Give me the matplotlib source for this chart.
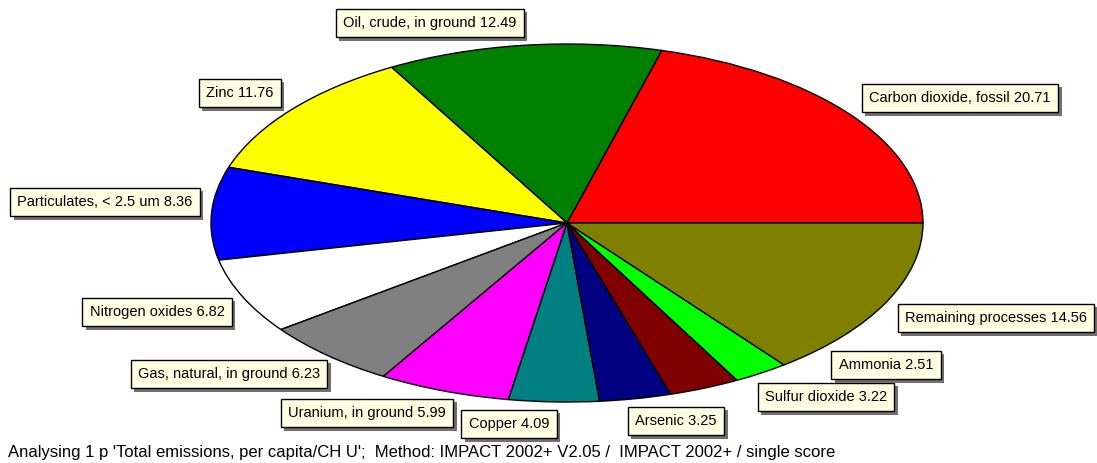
import matplotlib.pyplot as plt
import matplotlib.patheffects as pe

plt.rcParams["font.family"] = ["Liberation Sans", "DejaVu Sans"]

# data, in drawing order (counter-clockwise from 3 o'clock)
names = [
    "Carbon dioxide, fossil",
    "Oil, crude, in ground",
    "Zinc",
    "Particulates, < 2.5 um",
    "Nitrogen oxides",
    "Gas, natural, in ground",
    "Uranium, in ground",
    "Copper",
    "Arsenic",
    "Sulfur dioxide",
    "Ammonia",
    "Remaining processes",
]
values = [20.71, 12.49, 11.76, 8.36, 6.82, 6.23, 5.99, 4.09, 3.25, 3.22, 2.51, 14.56]
colors = [
    "#ff0000", "#008000", "#ffff00", "#0000ff", "#ffffff", "#808080",
    "#ff00ff", "#008080", "#000080", "#800000", "#00ff00", "#808000",
]
# label box centres, figure pixels from top-left
label_xy = [
    (960, 98), (430, 23), (240, 93), (105, 202), (157, 312), (229, 374),
    (367, 413), (509, 424), (676, 421), (826, 397), (886, 365), (996, 318),
]
footer = ("Analysing 1 p 'Total emissions, per capita/CH U';  Method: IMPACT 2002+ V2.05 /"
          "  IMPACT 2002+ / single score")

W, H = 1097, 463
fig = plt.figure(figsize=(W / 100, H / 100), dpi=100)
# ellipse bounding box in pixels: x 211..923, y 44..402
ax = fig.add_axes([211 / W, (H - 402) / H, 712 / W, 358 / H])
ax.pie(
    values,
    colors=colors,
    startangle=0,
    counterclock=True,
    radius=1,
    wedgeprops=dict(edgecolor="black", linewidth=1),
)
ax.set_aspect("auto")
ax.set_xlim(-1, 1)
ax.set_ylim(-1, 1)
ax.axis("off")

for name, v, (px, py) in zip(names, values, label_xy):
    t = fig.text(
        px / W, 1 - py / H, f"{name} {v:.2f}",
        ha="center", va="center", fontsize=10.5, color="black",
        bbox=dict(boxstyle="square,pad=0.5", fc="#ffffe1", ec="black", lw=1),
    )
    t.get_bbox_patch().set_path_effects([
        pe.SimplePatchShadow(offset=(2.5, -2.5), shadow_rgbFace="#707070", alpha=1),
        pe.Normal(),
    ])

fig.text(8 / W, 1 - 452 / H, footer, ha="left", va="center", fontsize=12)

fig.savefig("out.png", dpi=100)
